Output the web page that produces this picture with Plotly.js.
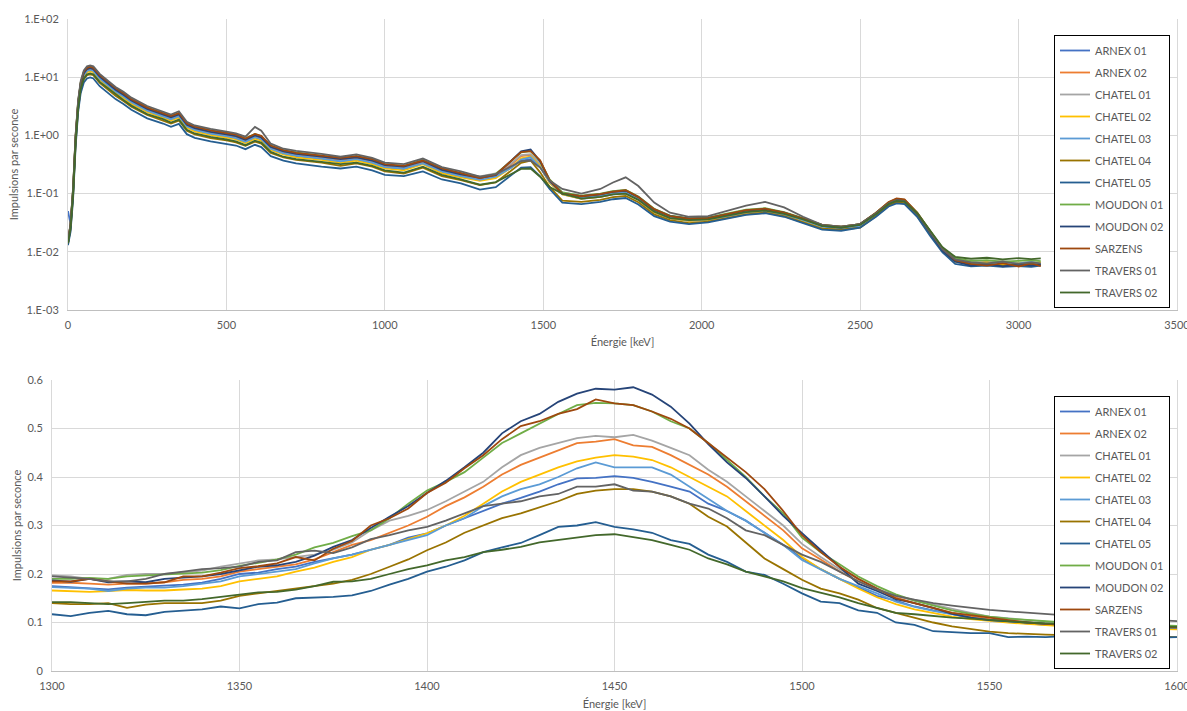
<!DOCTYPE html>
<html>
<head>
<meta charset="utf-8">
<script src="https://cdn.plot.ly/plotly-3.0.1.min.js"></script>
<style>html,body{margin:0;padding:0;background:#fff}#chart{width:1187px;height:711px}</style>
</head>
<body>
<div id="chart"></div>
<script>
// ---------- Data ----------
const seriesNames = ["ARNEX 01","ARNEX 02","CHATEL 01","CHATEL 02","CHATEL 03","CHATEL 04","CHATEL 05","MOUDON 01","MOUDON 02","SARZENS","TRAVERS 01","TRAVERS 02"];
const seriesColors = ["#4472C4","#ED7D31","#A5A5A5","#FFC000","#5B9BD5","#997300","#255E91","#70AD47","#264478","#9E480E","#636363","#43682B"];

// Top chart: full spectrum (keV)
const energyTop = [0,8,16,24,32,40,50,60,70,80,100,125,150,175,200,250,300,325,350,375,400,450,500,530,560,590,610,640,680,720,800,860,910,960,1000,1060,1120,1180,1240,1300,1350,1400,1430,1460,1490,1520,1560,1620,1680,1720,1760,1800,1850,1900,1960,2020,2080,2140,2200,2260,2320,2380,2440,2500,2550,2590,2615,2640,2680,2720,2760,2800,2850,2900,2950,3000,3040,3070];

const topArnex01 = [0.05,0.03,0.1,0.84,3.3,7.0,10.7,12.6,13,12.6,9.3,7.3,5.6,4.55,3.6,2.6,2.12,1.86,2.1,1.4,1.21,1.05,0.95,0.88,0.76,0.91,0.84,0.58,0.48,0.44,0.39,0.35,0.38,0.33,0.28,0.26,0.33,0.23,0.195,
  0.175,0.2,0.284,0.37,0.39,0.285,0.155,0.098,
  0.081,0.088,0.097,0.101,0.079,0.048,0.038,0.034,0.035,0.041,0.047,0.05,0.044,0.034,0.027,0.025,0.028,0.043,0.066,0.075,0.072,0.044,0.021,0.0105,0.007,0.0066,0.006,0.0064,0.0061,0.0065,0.0062];
const topArnex02 = [0.014,0.028,0.11,0.9,3.5,7.5,11.5,13.5,14,13.5,10,7.8,6.0,4.9,3.9,2.8,2.28,2.0,2.25,1.5,1.3,1.13,1.02,0.95,0.82,0.98,0.9,0.62,0.52,0.47,0.42,0.38,0.41,0.36,0.3,0.28,0.35,0.25,0.21,
  0.182,0.205,0.318,0.44,0.462,0.32,0.168,0.1,
  0.088,0.094,0.105,0.11,0.085,0.052,0.041,0.036,0.037,0.043,0.05,0.053,0.046,0.036,0.028,0.026,0.029,0.046,0.07,0.08,0.077,0.046,0.022,0.011,0.0072,0.0062,0.0068,0.0058,0.0064,0.0066,0.006];
const topChatel01 = [0.015,0.029,0.115,0.94,3.6,7.8,12,14,14.6,14,10.4,8.1,6.2,5.1,4.05,2.9,2.37,2.08,2.34,1.56,1.35,1.18,1.06,0.99,0.85,1.03,0.94,0.65,0.54,0.49,0.44,0.4,0.43,0.37,0.31,0.29,0.36,0.26,0.22,
  0.197,0.222,0.332,0.46,0.475,0.33,0.17,0.105,
  0.091,0.098,0.11,0.115,0.088,0.054,0.042,0.037,0.038,0.044,0.052,0.055,0.047,0.037,0.029,0.027,0.03,0.046,0.07,0.08,0.077,0.046,0.023,0.0112,0.0076,0.0068,0.0066,0.007,0.0064,0.0067,0.0065];
const topChatel02 = [0.014,0.026,0.1,0.81,3.15,6.75,10.4,12.2,12.6,12.2,9.0,7.0,5.4,4.4,3.5,2.52,2.05,1.8,2.03,1.35,1.17,1.02,0.92,0.86,0.74,0.88,0.81,0.56,0.47,0.42,0.38,0.34,0.37,0.32,0.27,0.25,0.32,0.225,0.19,
  0.166,0.185,0.284,0.405,0.435,0.3,0.152,0.097,
  0.082,0.088,0.098,0.102,0.079,0.048,0.038,0.034,0.035,0.041,0.047,0.05,0.044,0.034,0.027,0.025,0.028,0.043,0.065,0.075,0.072,0.043,0.021,0.0105,0.0069,0.0063,0.0066,0.0061,0.0065,0.0063,0.0066];
const topChatel03 = [0.016,0.027,0.105,0.86,3.3,7.1,10.9,12.8,13.3,12.8,9.5,7.4,5.7,4.65,3.7,2.66,2.17,1.9,2.14,1.43,1.24,1.07,0.97,0.9,0.78,0.93,0.86,0.59,0.49,0.45,0.4,0.36,0.39,0.34,0.285,0.27,0.33,0.24,0.2,
  0.173,0.195,0.28,0.385,0.42,0.285,0.16,0.099,
  0.085,0.091,0.1,0.105,0.082,0.05,0.039,0.035,0.036,0.041,0.048,0.051,0.044,0.035,0.027,0.025,0.028,0.044,0.066,0.076,0.073,0.044,0.021,0.0107,0.0073,0.0065,0.0062,0.0066,0.0063,0.0067,0.0062];
const topChatel04 = [0.014,0.024,0.09,0.72,2.8,6.0,9.2,10.8,11.2,10.8,8.0,6.2,4.8,3.9,3.1,2.24,1.82,1.6,1.8,1.2,1.04,0.9,0.82,0.76,0.66,0.78,0.72,0.5,0.42,0.38,0.34,0.3,0.33,0.29,0.24,0.22,0.28,0.2,0.17,
  0.14,0.155,0.249,0.337,0.37,0.232,0.13,0.076,
  0.072,0.078,0.087,0.091,0.071,0.044,0.035,0.031,0.033,0.038,0.044,0.047,0.041,0.032,0.025,0.024,0.026,0.041,0.062,0.071,0.068,0.041,0.02,0.0102,0.0068,0.006,0.0062,0.0058,0.006,0.0062,0.0059];
const topChatel05 = [0.013,0.022,0.08,0.63,2.5,5.3,8.1,9.5,9.9,9.5,7.0,5.5,4.2,3.45,2.75,1.96,1.6,1.4,1.58,1.05,0.91,0.79,0.72,0.67,0.58,0.69,0.63,0.44,0.37,0.33,0.29,0.27,0.29,0.25,0.21,0.2,0.24,0.175,0.15,
  0.117,0.129,0.205,0.28,0.285,0.198,0.12,0.07,
  0.066,0.072,0.08,0.084,0.065,0.041,0.033,0.03,0.032,0.037,0.043,0.046,0.04,0.031,0.024,0.023,0.026,0.04,0.06,0.068,0.066,0.04,0.019,0.0098,0.0062,0.0056,0.0058,0.0055,0.0057,0.0055,0.0058];
const topMoudon01 = [0.015,0.03,0.12,0.97,3.8,8.1,12.4,14.6,15.1,14.6,10.8,8.4,6.5,5.3,4.2,3.0,2.46,2.16,2.43,1.62,1.4,1.22,1.1,1.03,0.89,1.06,0.97,0.67,0.56,0.51,0.45,0.41,0.44,0.39,0.32,0.3,0.38,0.27,0.225,
  0.19,0.217,0.372,0.51,0.535,0.36,0.175,0.105,
  0.092,0.1,0.11,0.116,0.089,0.055,0.042,0.038,0.039,0.045,0.053,0.056,0.048,0.038,0.029,0.027,0.03,0.047,0.071,0.081,0.078,0.047,0.023,0.0115,0.0078,0.007,0.0072,0.0068,0.007,0.0072,0.0069];
const topMoudon02 = [0.014,0.028,0.11,0.92,3.6,7.65,11.7,13.8,14.3,13.8,10.2,8.0,6.1,5.0,4.0,2.86,2.33,2.04,2.3,1.53,1.33,1.15,1.04,0.97,0.84,1.0,0.92,0.63,0.53,0.48,0.43,0.39,0.42,0.37,0.31,0.29,0.36,0.255,0.215,
  0.187,0.208,0.367,0.53,0.57,0.36,0.165,0.1,
  0.09,0.097,0.107,0.112,0.087,0.053,0.041,0.037,0.038,0.044,0.051,0.054,0.047,0.037,0.028,0.026,0.03,0.046,0.069,0.079,0.076,0.045,0.022,0.0105,0.0068,0.0058,0.0062,0.0056,0.006,0.0058,0.006];
const topSarzens = [0.016,0.03,0.12,0.98,3.8,8.0,12.5,14.5,15.2,14.5,10.9,8.4,6.5,5.3,4.2,3.0,2.45,2.15,2.42,1.6,1.41,1.22,1.1,1.03,0.88,1.06,0.98,0.67,0.56,0.5,0.45,0.41,0.44,0.39,0.32,0.3,0.37,0.27,0.225,
  0.185,0.212,0.367,0.515,0.535,0.375,0.17,0.1,
  0.09,0.098,0.108,0.114,0.087,0.054,0.041,0.037,0.038,0.044,0.052,0.055,0.047,0.037,0.029,0.027,0.03,0.047,0.072,0.083,0.08,0.047,0.023,0.0112,0.0072,0.0062,0.0058,0.0064,0.0056,0.0063,0.0057];
const topTravers01 = [0.015,0.03,0.125,1.02,4.0,8.5,13.1,15.4,16.0,15.4,11.4,8.9,6.8,5.6,4.45,3.2,2.6,2.28,2.6,1.71,1.48,1.29,1.16,1.08,0.95,1.4,1.2,0.72,0.59,0.54,0.48,0.43,0.47,0.41,0.34,0.32,0.4,0.285,0.24,
  0.195,0.215,0.297,0.36,0.37,0.28,0.168,0.12,
  0.1,0.12,0.155,0.19,0.135,0.07,0.047,0.04,0.041,0.05,0.062,0.072,0.058,0.04,0.029,0.027,0.03,0.046,0.068,0.077,0.074,0.045,0.022,0.011,0.0074,0.0066,0.0063,0.0068,0.0062,0.0066,0.0063];
const topTravers02 = [0.014,0.025,0.095,0.75,2.9,6.2,9.5,11.2,11.6,11.2,8.3,6.5,5.0,4.05,3.25,2.32,1.9,1.66,1.87,1.25,1.08,0.94,0.85,0.79,0.68,0.81,0.75,0.52,0.43,0.39,0.35,0.32,0.34,0.3,0.25,0.23,0.29,0.21,0.175,
  0.142,0.158,0.218,0.265,0.27,0.195,0.13,0.1,
  0.082,0.088,0.097,0.1,0.078,0.049,0.038,0.035,0.036,0.042,0.048,0.051,0.045,0.036,0.028,0.026,0.029,0.044,0.066,0.075,0.073,0.046,0.023,0.012,0.0082,0.0076,0.0079,0.0074,0.0078,0.0075,0.0077];

// Bottom chart: zoom on the 1460 keV peak
const energyBottom = [1300,1305,1310,1315,1320,1325,1330,1335,1340,1345,1350,1355,1360,1365,1370,1375,1380,1385,1390,1395,1400,1405,1410,1415,1420,1425,1430,1435,1440,1445,1450,1455,1460,1465,1470,1475,1480,1485,1490,1495,1500,1505,1510,1515,1520,1525,1530,1535,1540,1545,1550,1555,1560,1565,1570,1575,1580,1585,1590,1595,1600];

const botArnex01 = [0.175,0.173,0.17,0.168,0.172,0.174,0.175,0.178,0.182,0.19,0.2,0.203,0.21,0.215,0.225,0.233,0.24,0.25,0.26,0.275,0.284,0.3,0.315,0.33,0.345,0.357,0.37,0.385,0.397,0.398,0.402,0.398,0.39,0.38,0.37,0.345,0.33,0.31,0.285,0.26,0.233,0.21,0.19,0.172,0.155,0.145,0.133,0.125,0.117,0.11,0.105,0.101,0.098,0.095,0.093,0.092,0.091,0.09,0.088,0.088,0.087];
const botArnex02 = [0.182,0.182,0.18,0.178,0.18,0.18,0.183,0.188,0.19,0.195,0.205,0.21,0.215,0.22,0.23,0.245,0.26,0.27,0.285,0.3,0.318,0.34,0.358,0.38,0.405,0.425,0.44,0.455,0.47,0.473,0.478,0.465,0.462,0.445,0.425,0.405,0.38,0.35,0.32,0.29,0.253,0.23,0.205,0.185,0.168,0.152,0.14,0.13,0.12,0.113,0.107,0.104,0.1,0.097,0.095,0.093,0.092,0.09,0.089,0.088,0.088];
const botChatel01 = [0.197,0.195,0.19,0.19,0.198,0.2,0.2,0.203,0.207,0.215,0.222,0.228,0.23,0.235,0.24,0.25,0.265,0.29,0.31,0.32,0.332,0.35,0.37,0.39,0.42,0.445,0.46,0.47,0.48,0.485,0.482,0.487,0.475,0.46,0.445,0.415,0.39,0.36,0.33,0.3,0.262,0.235,0.21,0.19,0.17,0.155,0.145,0.137,0.128,0.12,0.112,0.108,0.105,0.102,0.1,0.098,0.096,0.095,0.094,0.093,0.093];
const botChatel02 = [0.166,0.165,0.163,0.165,0.167,0.166,0.166,0.168,0.17,0.175,0.185,0.19,0.195,0.205,0.213,0.225,0.235,0.25,0.26,0.272,0.284,0.3,0.32,0.345,0.37,0.39,0.405,0.42,0.432,0.44,0.445,0.442,0.435,0.42,0.4,0.38,0.36,0.33,0.3,0.27,0.235,0.21,0.19,0.17,0.152,0.138,0.127,0.12,0.112,0.107,0.103,0.1,0.097,0.094,0.092,0.09,0.089,0.088,0.087,0.086,0.086];
const botChatel03 = [0.173,0.172,0.17,0.165,0.17,0.172,0.172,0.175,0.18,0.185,0.195,0.2,0.205,0.21,0.222,0.232,0.24,0.25,0.26,0.27,0.28,0.3,0.315,0.34,0.36,0.375,0.385,0.4,0.418,0.43,0.42,0.42,0.42,0.405,0.38,0.355,0.33,0.31,0.285,0.26,0.229,0.21,0.19,0.175,0.16,0.143,0.132,0.124,0.117,0.11,0.105,0.102,0.099,0.097,0.095,0.093,0.092,0.091,0.09,0.09,0.089];
const botChatel04 = [0.14,0.138,0.138,0.14,0.13,0.137,0.14,0.14,0.14,0.145,0.155,0.16,0.165,0.17,0.175,0.18,0.188,0.2,0.215,0.23,0.249,0.265,0.285,0.3,0.315,0.325,0.337,0.35,0.365,0.372,0.375,0.375,0.37,0.36,0.345,0.318,0.298,0.265,0.232,0.21,0.188,0.17,0.16,0.147,0.13,0.12,0.11,0.1,0.092,0.087,0.081,0.078,0.076,0.075,0.074,0.074,0.073,0.072,0.072,0.071,0.07];
const botChatel05 = [0.117,0.113,0.12,0.124,0.117,0.115,0.122,0.124,0.127,0.133,0.129,0.138,0.141,0.15,0.151,0.153,0.156,0.165,0.178,0.19,0.205,0.215,0.228,0.245,0.255,0.264,0.28,0.297,0.3,0.307,0.297,0.292,0.285,0.27,0.262,0.24,0.225,0.205,0.198,0.18,0.16,0.143,0.14,0.125,0.12,0.1,0.095,0.082,0.08,0.078,0.078,0.07,0.071,0.07,0.072,0.07,0.069,0.07,0.071,0.069,0.07];
const botMoudon01 = [0.19,0.19,0.192,0.19,0.195,0.197,0.198,0.2,0.203,0.208,0.217,0.223,0.23,0.24,0.255,0.264,0.278,0.29,0.315,0.345,0.372,0.39,0.41,0.44,0.47,0.49,0.51,0.53,0.548,0.553,0.552,0.548,0.535,0.515,0.5,0.47,0.435,0.4,0.36,0.325,0.275,0.245,0.22,0.195,0.175,0.158,0.145,0.135,0.125,0.118,0.112,0.108,0.105,0.102,0.1,0.098,0.096,0.095,0.095,0.094,0.093];
const botMoudon02 = [0.187,0.184,0.19,0.183,0.185,0.183,0.19,0.192,0.195,0.2,0.208,0.215,0.218,0.225,0.238,0.256,0.27,0.295,0.318,0.34,0.367,0.392,0.42,0.45,0.49,0.515,0.53,0.555,0.572,0.582,0.58,0.585,0.57,0.545,0.51,0.468,0.43,0.398,0.36,0.32,0.284,0.25,0.215,0.18,0.165,0.148,0.14,0.13,0.118,0.11,0.105,0.103,0.1,0.097,0.095,0.094,0.093,0.092,0.09,0.09,0.09];
const botSarzens = [0.185,0.185,0.19,0.185,0.18,0.18,0.183,0.195,0.195,0.203,0.212,0.216,0.222,0.235,0.228,0.252,0.268,0.3,0.315,0.335,0.367,0.388,0.418,0.445,0.478,0.505,0.515,0.53,0.54,0.56,0.552,0.548,0.535,0.52,0.5,0.47,0.44,0.41,0.375,0.33,0.28,0.245,0.215,0.19,0.17,0.15,0.14,0.13,0.12,0.115,0.11,0.105,0.1,0.097,0.095,0.095,0.094,0.093,0.092,0.09,0.09];
const botTravers01 = [0.195,0.192,0.19,0.185,0.185,0.19,0.2,0.205,0.21,0.212,0.215,0.225,0.228,0.245,0.248,0.243,0.255,0.272,0.28,0.29,0.297,0.31,0.325,0.34,0.345,0.35,0.36,0.365,0.38,0.38,0.385,0.372,0.37,0.36,0.345,0.335,0.315,0.29,0.28,0.26,0.24,0.225,0.205,0.185,0.168,0.155,0.147,0.14,0.135,0.13,0.126,0.123,0.12,0.118,0.115,0.112,0.11,0.108,0.105,0.105,0.103];
const botTravers02 = [0.142,0.142,0.14,0.138,0.14,0.142,0.145,0.145,0.148,0.153,0.158,0.162,0.163,0.168,0.175,0.184,0.185,0.19,0.2,0.21,0.218,0.228,0.235,0.245,0.25,0.256,0.265,0.27,0.275,0.28,0.282,0.276,0.27,0.26,0.25,0.232,0.22,0.205,0.195,0.185,0.171,0.162,0.152,0.14,0.13,0.12,0.117,0.113,0.11,0.108,0.105,0.102,0.1,0.098,0.096,0.095,0.094,0.093,0.092,0.092,0.091];

const topTickVals = [0.001,0.01,0.1,1,10,100];
const topTickText = ["1.E-03","1.E-02","1.E-01","1.E+00","1.E+01","1.E+02"];
const topXTicks = [0,500,1000,1500,2000,2500,3000,3500];
const botXTicks = [1300,1350,1400,1450,1500,1550,1600];
const botYTicks = [0,0.1,0.2,0.3,0.4,0.5,0.6];
const yTitle = "Impulsions par seconce";
const xTitle = "Énergie [keV]";

const topSeries = [topArnex01,topArnex02,topChatel01,topChatel02,topChatel03,topChatel04,topChatel05,topMoudon01,topMoudon02,topSarzens,topTravers01,topTravers02];
const botSeries = [botArnex01,botArnex02,botChatel01,botChatel02,botChatel03,botChatel04,botChatel05,botMoudon01,botMoudon02,botSarzens,botTravers01,botTravers02];

// ---------- Traces ----------
const traces = [];
seriesNames.forEach((name, i) => {
  traces.push({
    x: energyTop, y: topSeries[i], name: name, type: 'scatter', mode: 'lines',
    line: {color: seriesColors[i], width: 1.8},
    xaxis: 'x', yaxis: 'y', legend: 'legend', legendgroup: 'a' + i, hoverinfo: 'skip'
  });
});
seriesNames.forEach((name, i) => {
  traces.push({
    x: energyBottom, y: botSeries[i], name: name, type: 'scatter', mode: 'lines',
    line: {color: seriesColors[i], width: 1.8},
    xaxis: 'x2', yaxis: 'y2', legend: 'legend2', legendgroup: 'b' + i, hoverinfo: 'skip'
  });
});

const W = 1187, H = 711;
const fam = 'Lato, "Open Sans", sans-serif';
const tickFont = {family: fam, size: 11, color: '#595959'};
const titleFont = {family: fam, size: 11, color: '#595959'};
const grid = '#D9D9D9';

const legendStyle = (top) => ({
  x: 1054 / W, y: 1 - top / H, xanchor: 'left', yanchor: 'top', xref: 'paper', yref: 'paper',
  bgcolor: '#FFFFFF', bordercolor: '#000000', borderwidth: 1,
  font: {family: fam, size: 11, color: '#595959'},
  tracegroupgap: 3, itemwidth: 30, traceorder: 'grouped'
});

const xCommon = {
  ticks: '', showgrid: true, gridcolor: grid, gridwidth: 1, zeroline: false,
  showline: true, linecolor: '#BFBFBF', linewidth: 1,
  tickfont: tickFont, automargin: false, ticklabeloverflow: 'allow', ticklabelstandoff: 5
};
const yCommon = {
  ticks: '', showgrid: true, gridcolor: grid, gridwidth: 1, zeroline: false,
  showline: true, mirror: true, linecolor: grid, linewidth: 1,
  tickfont: tickFont, automargin: false, ticklabelstandoff: 6
};

const layout = {
  width: W, height: H,
  margin: {l: 0, r: 0, t: 0, b: 0},
  paper_bgcolor: '#FFFFFF', plot_bgcolor: '#FFFFFF',
  font: tickFont,
  showlegend: true,
  xaxis: Object.assign({}, xCommon, {
    domain: [68 / W, 1177 / W], anchor: 'y', range: [0, 3500],
    tickvals: topXTicks, ticktext: topXTicks.map(String),
    title: {text: xTitle, font: titleFont, standoff: 8}
  }),
  yaxis: Object.assign({}, yCommon, {
    domain: [1 - 310 / H, 1 - 19 / H], anchor: 'x', type: 'log', range: [-3, 2],
    tickvals: topTickVals, ticktext: topTickText,
    title: {text: yTitle, font: titleFont, standoff: 3}
  }),
  xaxis2: Object.assign({}, xCommon, {
    domain: [52 / W, 1177 / W], anchor: 'y2', range: [1300, 1600],
    tickvals: botXTicks, ticktext: botXTicks.map(String),
    title: {text: xTitle, font: titleFont, standoff: 9}
  }),
  yaxis2: Object.assign({}, yCommon, {
    domain: [1 - 671 / H, 1 - 380 / H], anchor: 'x2', range: [0, 0.6],
    tickvals: botYTicks, ticktext: botYTicks.map(String),
    title: {text: yTitle, font: titleFont, standoff: 3}
  }),
  legend: legendStyle(35),
  legend2: legendStyle(396)
};

Plotly.newPlot('chart', traces, layout, {staticPlot: true, displayModeBar: false});
</script>
</body>
</html>
